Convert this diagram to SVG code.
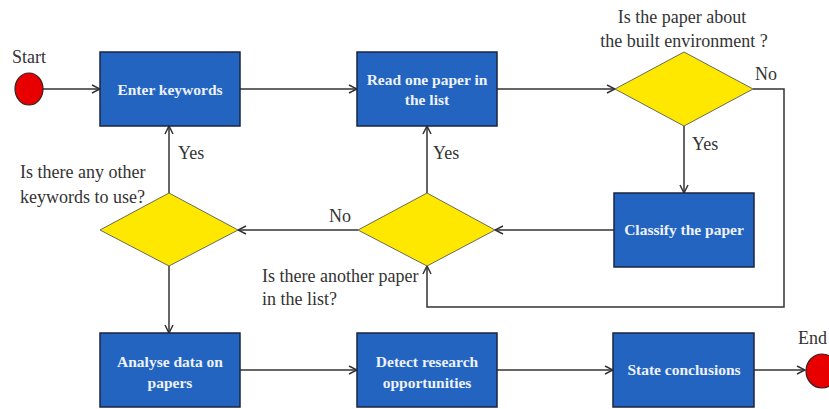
<svg xmlns="http://www.w3.org/2000/svg" width="829" height="409" viewBox="0 0 829 409">
<style>
.box{fill:#2264c0;stroke:#1b2540;stroke-width:1.5}
.dia{fill:#ffe800;stroke:#6a6a55;stroke-width:1}
.term{fill:#e80000;stroke:#3a2020;stroke-width:1.2}
.bt{font-family:"Liberation Serif","Times New Roman",serif;font-weight:bold;font-size:15.5px;fill:#eef2fa;text-anchor:middle}
.lt{font-family:"Liberation Serif","Times New Roman",serif;font-size:18px;fill:#333}
.con{fill:none;stroke:#333;stroke-width:1.5}
</style>
<defs>
<marker id="arr" viewBox="0 0 10 10" refX="9" refY="5" markerWidth="10" markerHeight="10" markerUnits="userSpaceOnUse" orient="auto">
<path d="M1,1 L9,5 L1,9" fill="none" stroke="#333" stroke-width="1.5"/>
</marker>
</defs>
<rect width="829" height="409" fill="#ffffff"/>
<g id="connectors">
<path class="con" d="M43,89 H100" marker-end="url(#arr)"/>
<path class="con" d="M240,89 H357" marker-end="url(#arr)"/>
<path class="con" d="M497,89 H615" marker-end="url(#arr)"/>
<path class="con" d="M684,126 V193" marker-end="url(#arr)"/>
<path class="con" d="M753,89 H784 V307 H427 V266" marker-end="url(#arr)"/>
<path class="con" d="M614,230 H495" marker-end="url(#arr)"/>
<path class="con" d="M427,193 V126" marker-end="url(#arr)"/>
<path class="con" d="M358,230 H238" marker-end="url(#arr)"/>
<path class="con" d="M169,193 V126" marker-end="url(#arr)"/>
<path class="con" d="M169,266 V333" marker-end="url(#arr)"/>
<path class="con" d="M240,370 H357" marker-end="url(#arr)"/>
<path class="con" d="M497,370 H613" marker-end="url(#arr)"/>
<path class="con" d="M754,370 H805" marker-end="url(#arr)"/>
<text class="lt" x="755" y="80">No</text>
<text class="lt" x="692" y="150">Yes</text>
<text class="lt" x="433" y="159">Yes</text>
<text class="lt" x="178" y="159">Yes</text>
<text class="lt" x="329" y="222">No</text>
</g>
<g id="start">
<ellipse class="term" cx="29" cy="89" rx="14" ry="16"/>
<text class="lt" x="12" y="63">Start</text>
</g>
<g id="enter">
<rect class="box" x="100" y="52" width="140" height="74"/>
<text class="bt" x="170" y="95">Enter keywords</text>
</g>
<g id="read">
<rect class="box" x="357" y="52" width="140" height="74"/>
<text class="bt" x="427" y="85">Read one paper in</text>
<text class="bt" x="427" y="105">the list</text>
</g>
<g id="q-built">
<polygon class="dia" points="684,52 753,89 684,126 615,89"/>
<text class="lt" x="682" y="23" text-anchor="middle">Is the paper about</text>
<text class="lt" x="684" y="47" text-anchor="middle">the built environment ?</text>
</g>
<g id="classify">
<rect class="box" x="614" y="193" width="140" height="74"/>
<text class="bt" x="684" y="235">Classify the paper</text>
</g>
<g id="q-another">
<polygon class="dia" points="427,193 495,230 427,266 358,230"/>
<text class="lt" x="262" y="282">Is there another paper</text>
<text class="lt" x="262" y="305">in the list?</text>
</g>
<g id="q-keywords">
<polygon class="dia" points="169,193 238,230 169,266 100,230"/>
<text class="lt" x="20" y="178">Is there any other</text>
<text class="lt" x="20" y="203">keywords to use?</text>
</g>
<g id="analyse">
<rect class="box" x="100" y="333" width="140" height="74"/>
<text class="bt" x="170" y="367">Analyse data on</text>
<text class="bt" x="170" y="388">papers</text>
</g>
<g id="detect">
<rect class="box" x="357" y="333" width="140" height="74"/>
<text class="bt" x="427" y="367">Detect research</text>
<text class="bt" x="427" y="388">opportunities</text>
</g>
<g id="state">
<rect class="box" x="613" y="333" width="141" height="74"/>
<text class="bt" x="684" y="375">State conclusions</text>
</g>
<g id="end">
<ellipse class="term" cx="822" cy="371" rx="16" ry="17"/>
<text class="lt" x="798" y="344">End</text>
</g>
</svg>
